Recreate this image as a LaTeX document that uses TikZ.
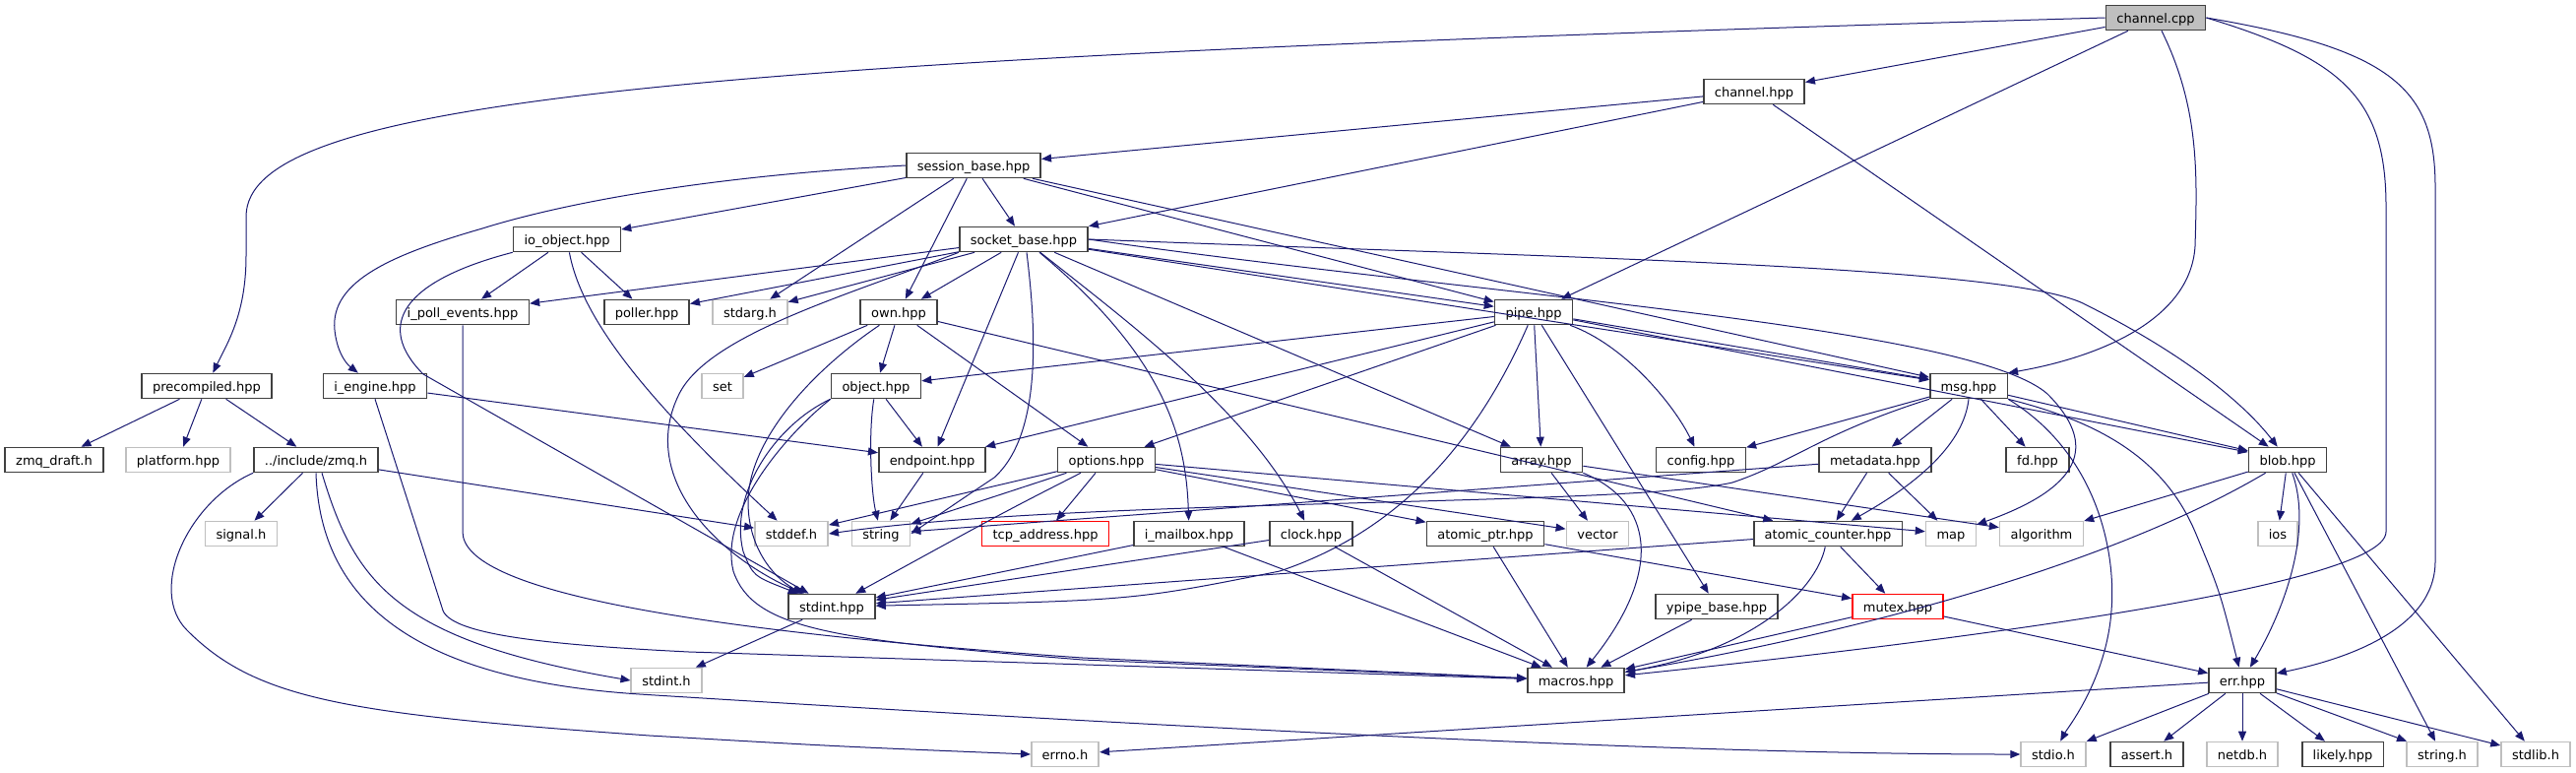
\documentclass[tikz,border=0pt]{standalone}
\usepackage{fontspec}
\setmainfont{DejaVu Sans}
\usetikzlibrary{arrows.meta,calc}

\definecolor{edgeblue}{HTML}{191970}
\definecolor{boxgrey}{HTML}{404040}
\definecolor{lightgrey}{HTML}{BFBFBF}

\tikzset{
    inc/.style={draw=boxgrey, fill=white, line width=0.8pt, inner xsep=5.5pt, inner ysep=0pt,
        minimum height=12.5pt, text height=0.75em, text depth=0.22em,
        font=\fontsize{6.5pt}{7pt}\selectfont},
    sys/.style={inc, draw=lightgrey},
    trunc/.style={inc, draw=red},
    root/.style={inc, fill=lightgrey},
    dep/.style={draw=edgeblue, line width=0.5pt, -{Triangle[length=5pt,width=4pt]}},
}

\begin{document}
\begin{tikzpicture}[x=0.5pt, y=-0.5pt]
        \useasboundingbox (0,0) rectangle (2617,784);

        % rows of headers
        \node[root]  (src)      at (2190,18)  {channel.cpp};
        \node[inc]   (chh)      at (1782,93)  {channel.hpp};
        \node[inc]   (sesb)     at (989,168)  {session\_base.hpp};
        \node[inc]   (sockb)    at (1040,243) {socket\_base.hpp};
        \node[inc]   (ioobj)    at (576,243)  {io\_object.hpp};

        \node[inc]   (ipoll)    at (470,317)  {i\_poll\_events.hpp};
        \node[inc]   (poller)   at (657,317)  {poller.hpp};
        \node[sys]   (stdarg)   at (762,317)  {stdarg.h};
        \node[inc]   (own)      at (913,317)  {own.hpp};
        \node[inc]   (pipe)     at (1558,317) {pipe.hpp};

        \node[inc]   (precomp)  at (210,392)  {precompiled.hpp};
        \node[inc]   (iengine)  at (381,392)  {i\_engine.hpp};
        \node[sys]   (set)      at (734,392)  {set};
        \node[inc]   (object)   at (890,392)  {object.hpp};
        \node[inc]   (msg)      at (2000,392) {msg.hpp};

        \node[inc]   (zmqdraft) at (55,467)   {zmq\_draft.h};
        \node[sys]   (platform) at (181,467)  {platform.hpp};
        \node[inc]   (zmqh)     at (321,467)  {../include/zmq.h};
        \node[inc]   (endpoint) at (947,467)  {endpoint.hpp};
        \node[inc]   (options)  at (1124,467) {options.hpp};
        \node[inc]   (array)    at (1566,467) {array.hpp};
        \node[inc]   (config)   at (1728,467) {config.hpp};
        \node[inc]   (metadata) at (1905,467) {metadata.hpp};
        \node[inc]   (fd)       at (2070,467) {fd.hpp};
        \node[inc]   (blob)     at (2324,467) {blob.hpp};

        \node[sys]   (signal)   at (245,542)  {signal.h};
        \node[sys]   (stddef)   at (804,542)  {stddef.h};
        \node[sys]   (string)   at (895,542)  {string};
        \node[trunc] (tcpaddr)  at (1062,542) {tcp\_address.hpp};
        \node[inc]   (imailbox) at (1208,542) {i\_mailbox.hpp};
        \node[inc]   (clock)    at (1332,542) {clock.hpp};
        \node[inc]   (atomptr)  at (1509,542) {atomic\_ptr.hpp};
        \node[sys]   (vector)   at (1623,542) {vector};
        \node[inc]   (atomcnt)  at (1857,542) {atomic\_counter.hpp};
        \node[sys]   (map)      at (1982,542) {map};
        \node[sys]   (algo)     at (2074,542) {algorithm};
        \node[sys]   (ios)      at (2314,542) {ios};

        \node[inc]   (stdintp)  at (845,616)  {stdint.hpp};
        \node[inc]   (ypipe)    at (1744,616) {ypipe\_base.hpp};
        \node[trunc] (mutex)    at (1928,616) {mutex.hpp};

        \node[sys]   (stdinth)  at (677,691)  {stdint.h};
        \node[inc]   (macros)   at (1601,691) {macros.hpp};
        \node[inc]   (err)      at (2278,691) {err.hpp};

        \node[sys]   (errno)    at (1082,766) {errno.h};
        \node[sys]   (stdio)    at (2086,766) {stdio.h};
        \node[inc]   (assert)   at (2181,766) {assert.h};
        \node[sys]   (netdb)    at (2278,766) {netdb.h};
        \node[inc]   (likely)   at (2380,766) {likely.hpp};
        \node[sys]   (stringh)  at (2481,766) {string.h};
        \node[sys]   (stdlib)   at (2576,766) {stdlib.h};

        % channel.cpp
        \draw[dep] (src.west) .. controls (700,60) and (250,100) .. (250,220) -- (250,260) .. controls (250,320) and (230,350) .. (precomp);
        \draw[dep] (src) -- (chh);
        \draw[dep] (src) -- (pipe);
        \draw[dep] ($(src.south)+(6,0)$) .. controls (2235,110) and (2232,180) .. (2230,250) .. controls (2225,330) and (2120,365) .. (msg.north east);
        \draw[dep] (src.east) .. controls (2380,60) and (2424,100) .. (2424,210) -- (2424,540) .. controls (2424,600) and (1900,660) .. (macros);
        \draw[dep] (src.east) .. controls (2430,50) and (2474,90) .. (2474,190) -- (2474,570) .. controls (2474,640) and (2380,670) .. (err);

        % channel.hpp
        \draw[dep] (chh) -- (sesb);
        \draw[dep] (chh) -- (sockb);
        \draw[dep] (chh) -- (blob);

        % session_base.hpp
        \draw[dep] (sesb.west) .. controls (700,180) and (560,210) .. (490,232) .. controls (400,258) and (335,285) .. (340,335) .. controls (342,355) and (350,368) .. (iengine);
        \draw[dep] (sesb) -- (ioobj);
        \draw[dep] (sesb) -- (stdarg);
        \draw[dep] (sesb) -- (own);
        \draw[dep] (sesb) -- (sockb);
        \draw[dep] (sesb) -- (pipe);
        \draw[dep] (sesb) -- (msg);

        % socket_base.hpp
        \draw[dep] (sockb) -- (ipoll);
        \draw[dep] (sockb) -- (poller);
        \draw[dep] (sockb) -- (stdarg);
        \draw[dep] (sockb) -- (own);
        \draw[dep] (sockb.south west) .. controls (860,300) and (720,340) .. (690,400) .. controls (650,480) and (720,560) .. (stdintp);
        \draw[dep] (sockb) -- (endpoint);
        \draw[dep] ($(sockb.south)+(3,0)$) .. controls (1052,330) and (1060,440) .. (1010,485) .. controls (980,505) .. (string.east);
        \draw[dep] (sockb) .. controls (1180,360) and (1205,440) .. (imailbox);
        \draw[dep] (sockb) .. controls (1150,330) and (1270,420) .. (clock);
        \draw[dep] (sockb) -- (pipe);
        \draw[dep] (sockb) -- (msg);
        \draw[dep] (sockb.east) .. controls (1600,262) and (2050,270) .. (2120,310) .. controls (2220,360) and (2280,410) .. (blob);
        \draw[dep] (sockb.east) .. controls (1500,300) and (2000,330) .. (2080,400) .. controls (2140,460) and (2100,500) .. (map);
        \draw[dep] (sockb) -- (array);

        % io_object.hpp
        \draw[dep] (ioobj) -- (ipoll);
        \draw[dep] (ioobj) -- (poller);
        \draw[dep] (ioobj) .. controls (590,320) and (650,400) .. (stddef);
        \draw[dep] (ioobj.south west) .. controls (410,285) and (380,330) .. (430,380) -- (stdintp);

        % i_poll_events.hpp, i_engine.hpp
        \draw[dep] (ipoll.south) -- (470,540) .. controls (470,600) and (700,640) .. (1100,668) -- (macros);
        \draw[dep] (iengine) -- (endpoint);
        \draw[dep] (iengine.south) -- (450,620) .. controls (460,645) and (560,655) .. (700,662) -- (macros);

        % precompiled.hpp, zmq.h
        \draw[dep] (precomp) -- (zmqdraft);
        \draw[dep] (precomp) -- (platform);
        \draw[dep] (precomp) -- (zmqh);
        \draw[dep] (zmqh) -- (signal);
        \draw[dep] (zmqh) -- (stddef);
        \draw[dep] ($(zmqh.south)+(6,0)$) .. controls (360,590) and (400,650) .. (stdinth.west);
        \draw[dep] (zmqh.south) .. controls (325,610) and (420,690) .. (650,705) .. controls (1400,752) and (1800,766) .. (stdio.west);
        \draw[dep] (zmqh.south west) .. controls (190,510) and (150,600) .. (190,640) .. controls (260,710) and (350,725) .. (660,747) .. controls (850,758) .. (errno.west);

        % own.hpp, object.hpp, endpoint.hpp
        \draw[dep] (own) -- (set);
        \draw[dep] (own) -- (object);
        \draw[dep] (own) -- (options);
        \draw[dep] (own) -- (atomcnt);
        \draw[dep] (own) .. controls (820,380) and (760,450) .. (760,510) .. controls (760,560) and (790,590) .. (stdintp);
        \draw[dep] (object) -- (endpoint);
        \draw[dep] (object) .. controls (882,440) and (885,500) .. (string);
        \draw[dep] (object.south west) .. controls (790,430) and (740,500) .. (755,560) .. controls (765,585) .. (stdintp);
        \draw[dep] (object.south west) .. controls (800,440) and (730,520) .. (745,580) .. controls (765,640) and (850,650) .. (1100,670) -- (macros);
        \draw[dep] (endpoint) -- (string);

        % options.hpp
        \draw[dep] (options) -- (stddef);
        \draw[dep] (options) -- (string);
        \draw[dep] (options) .. controls (1020,520) .. (stdintp);
        \draw[dep] (options) -- (tcpaddr);
        \draw[dep] (options) -- (atomptr);
        \draw[dep] (options) -- (vector);
        \draw[dep] (options) -- (map);

        % pipe.hpp
        \draw[dep] (pipe) -- (object);
        \draw[dep] (pipe) -- (endpoint);
        \draw[dep] (pipe) -- (options);
        \draw[dep] (pipe) .. controls (1500,450) and (1420,540) .. (1300,580) .. controls (1150,610) .. (stdintp);
        \draw[dep] (pipe) -- (array);
        \draw[dep] (pipe) -- (ypipe);
        \draw[dep] (pipe) .. controls (1650,350) and (1700,410) .. (config);
        \draw[dep] (pipe) -- (msg);
        \draw[dep] (pipe) -- (blob);

        % msg.hpp
        \draw[dep] (msg) -- (config);
        \draw[dep] (msg.south west) .. controls (1850,440) and (1820,470) .. (1760,490) .. controls (1650,515) and (1100,505) .. (stddef.east);
        \draw[dep] (msg) -- (metadata);
        \draw[dep] (msg.south) .. controls (1995,450) and (1950,490) .. (atomcnt);
        \draw[dep] (msg) -- (fd);
        \draw[dep] (msg.south east) .. controls (2130,460) and (2150,560) .. (2145,620) .. controls (2140,690) and (2100,740) .. (stdio);
        \draw[dep] (msg.south east) .. controls (2140,430) and (2200,470) .. (2230,540) .. controls (2255,600) .. (err);
        \draw[dep] (msg) -- (blob);

        % metadata.hpp, array.hpp
        \draw[dep] (metadata) -- (string);
        \draw[dep] (metadata) -- (atomcnt);
        \draw[dep] (metadata) -- (map);
        \draw[dep] (array) -- (vector);
        \draw[dep] (array) -- (algo);
        \draw[dep] (array.south east) .. controls (1680,510) and (1690,580) .. (macros);

        % lower headers
        \draw[dep] (imailbox) -- (stdintp);
        \draw[dep] (imailbox) -- (macros);
        \draw[dep] (clock) -- (stdintp);
        \draw[dep] (clock) -- (macros);
        \draw[dep] (atomptr) -- (macros);
        \draw[dep] (atomptr) -- (mutex);
        \draw[dep] (atomcnt) -- (stdintp);
        \draw[dep] (atomcnt) .. controls (1845,600) and (1780,660) .. (macros);
        \draw[dep] (atomcnt) -- (mutex);
        \draw[dep] (ypipe) -- (macros);
        \draw[dep] (mutex) -- (macros);
        \draw[dep] (mutex) -- (err);
        \draw[dep] (stdintp) -- (stdinth);

        % blob.hpp
        \draw[dep] (blob) -- (algo);
        \draw[dep] (blob) -- (ios);
        \draw[dep] (blob) .. controls (2150,570) and (1900,640) .. (macros);
        \draw[dep] (blob) .. controls (2350,540) and (2320,620) .. (err);
        \draw[dep] (blob) -- (stringh);
        \draw[dep] (blob) -- (stdlib);

        % err.hpp
        \draw[dep] (err) -- (errno);
        \draw[dep] (err) -- (stdio);
        \draw[dep] (err) -- (assert);
        \draw[dep] (err) -- (netdb);
        \draw[dep] (err) -- (likely);
        \draw[dep] (err) -- (stringh);
        \draw[dep] (err) -- (stdlib);
\end{tikzpicture}
\end{document}
